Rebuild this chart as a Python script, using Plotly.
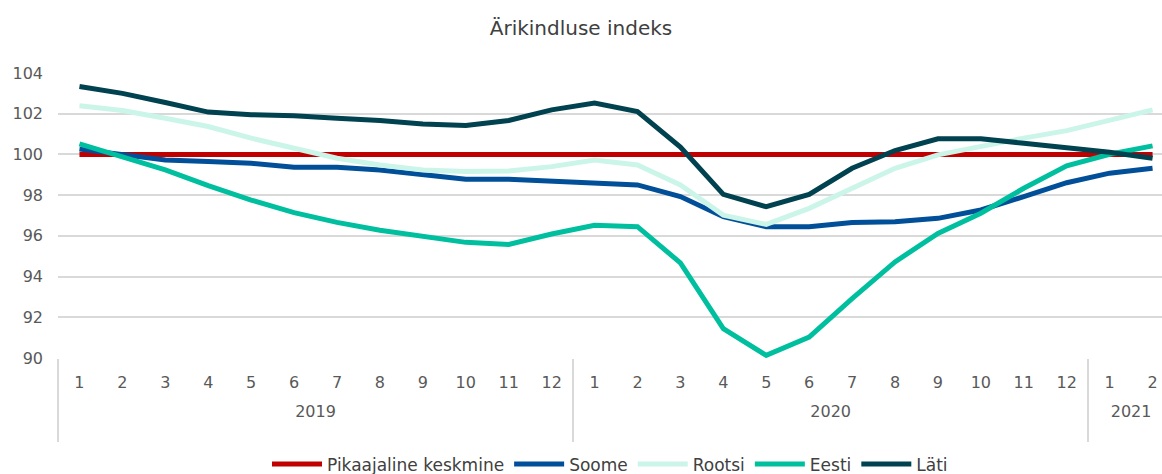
import plotly.graph_objects as go

years = ["2019"] * 12 + ["2020"] * 12 + ["2021"] * 2
months = [str(m) for m in range(1, 13)] + [str(m) for m in range(1, 13)] + ["1", "2"]

pikaajaline = [100] * 26
soome = [100.26, 99.98, 99.73, 99.65, 99.57, 99.37, 99.37, 99.24, 98.99, 98.78, 98.78, 98.70,
         98.63, 98.50, 97.93, 96.94, 96.45, 96.45, 96.66, 96.69, 96.86, 97.27, 97.93, 98.61,
         99.08, 99.32]
rootsi = [102.39, 102.16, 101.78, 101.37, 100.80, 100.31, 99.81, 99.48, 99.24, 99.16, 99.19, 99.40,
          99.72, 99.48, 98.50, 97.02, 96.56, 97.35, 98.34, 99.32, 99.98, 100.42, 100.80, 101.17,
          101.70, 102.19]
eesti = [100.52, 99.90, 99.24, 98.47, 97.76, 97.14, 96.66, 96.28, 95.96, 95.68, 95.58, 96.09,
         96.52, 96.45, 94.67, 91.44, 90.13, 91.03, 92.92, 94.72, 96.12, 97.11, 98.34, 99.44,
         100.01, 100.42]
lati = [103.34, 103.00, 102.55, 102.08, 101.95, 101.90, 101.78, 101.67, 101.49, 101.42, 101.67, 102.19,
        102.52, 102.11, 100.36, 98.04, 97.43, 98.04, 99.32, 100.19, 100.77, 100.77, 100.55, 100.34,
        100.11, 99.81]

series = [
    ("Pikaajaline keskmine", pikaajaline, "#c00000"),
    ("Soome", soome, "#004f98"),
    ("Rootsi", rootsi, "#ccf5e9"),
    ("Eesti", eesti, "#00bf9f"),
    ("Läti", lati, "#00424f"),
]

# year labels get a leading blank line so they sit lower, and a trailing one so dividers run longer
year_labels = ["<br>" + y + "<br> " for y in years]

fig = go.Figure()
for name, vals, col in series:
    fig.add_trace(go.Scatter(
        x=[year_labels, months], y=vals, name=name, mode="lines",
        line=dict(color=col, width=5),
    ))

font_family = "DejaVu Sans, sans-serif"
fig.update_layout(
    width=1162, height=474,
    margin=dict(l=58, r=0, t=73, b=116, autoexpand=False),
    paper_bgcolor="white", plot_bgcolor="white",
    font=dict(family=font_family, size=16, color="#595959"),
    title=dict(text="Ärikindluse indeks", x=0.5, xanchor="center", y=0.94, yanchor="middle",
               font=dict(size=20, color="#404040", family=font_family)),
    showlegend=True,
    legend=dict(orientation="h", x=0.5, xanchor="center", y=-0.31, yanchor="top",
                font=dict(size=17, color="#404040"), itemwidth=50, traceorder="normal"),
    xaxis=dict(
        type="multicategory", range=[-0.5, 25.22], automargin=False,
        showgrid=False, showline=False, ticks="",
        dividercolor="#d9d9d9", dividerwidth=2, ticklabelstandoff=13,
        tickfont=dict(size=16, color="#595959"),
    ),
    yaxis=dict(
        range=[90, 104], dtick=2, tick0=90, automargin=False,
        showgrid=True, gridcolor="#d9d9d9", gridwidth=2,
        zeroline=False, showline=False, ticks="", ticklabelstandoff=14,
        tickfont=dict(size=16, color="#595959"),
    ),
)

fig.write_html("out.html", config={"displayModeBar": False},
               post_script="document.body.style.margin='0';document.body.style.overflow='hidden';")
